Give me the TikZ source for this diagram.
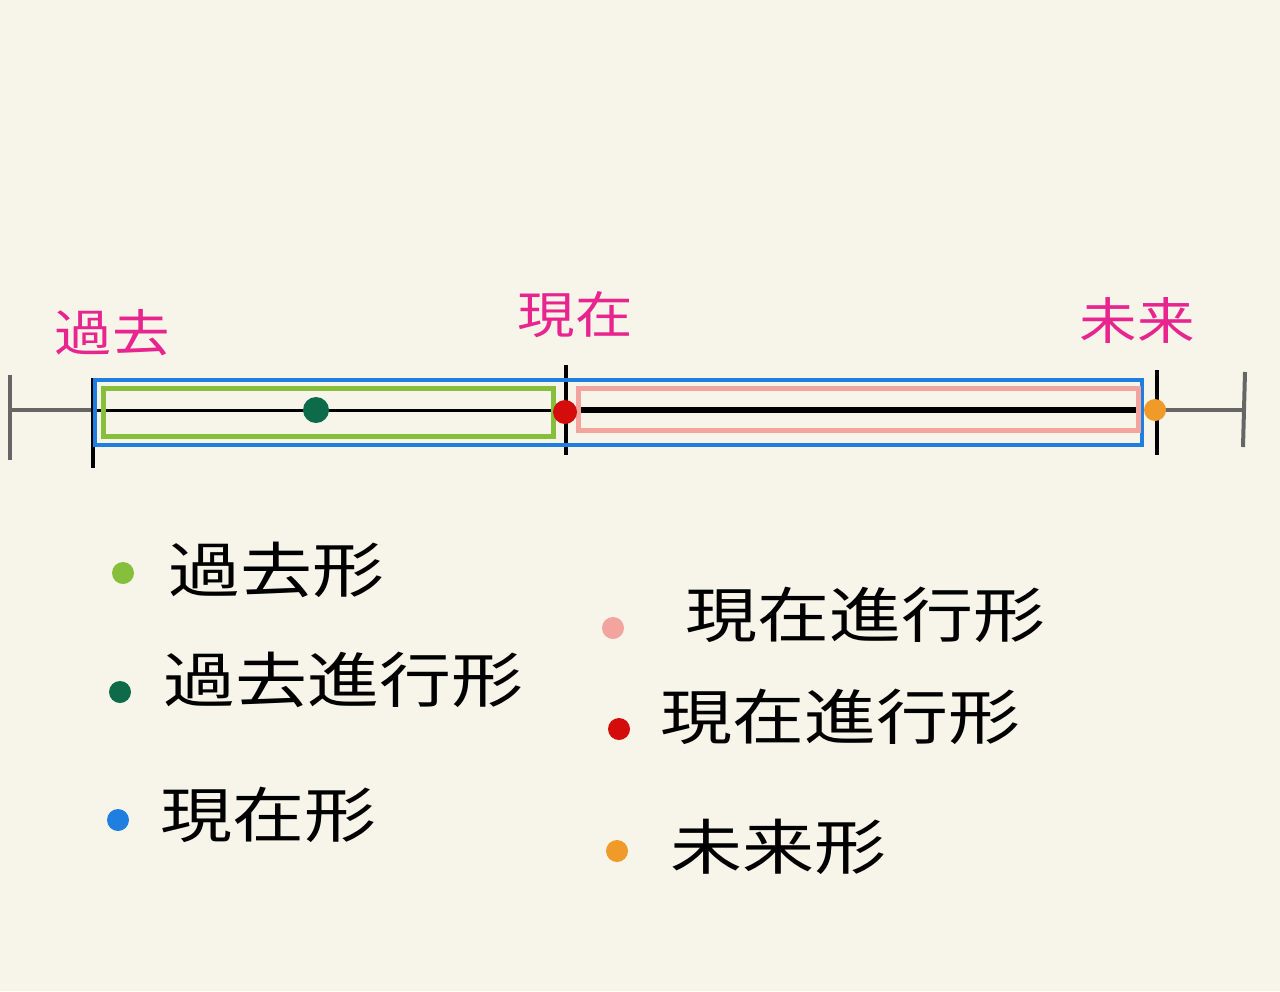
\documentclass[tikz,border=0pt]{standalone}
\usepackage{fontspec}
\newfontfamily\cjk{Noto Sans CJK JP}
\definecolor{bg}{HTML}{F7F5E9}
\definecolor{mag}{HTML}{E8258F}
\definecolor{gre}{HTML}{86BF3C}
\definecolor{dgr}{HTML}{0E6B4A}
\definecolor{blu}{HTML}{1E7FE0}
\definecolor{pnk}{HTML}{F4A49E}
\definecolor{red}{HTML}{D40C0C}
\definecolor{org}{HTML}{F09A2A}
\definecolor{gry}{HTML}{666666}
\begin{document}
\begin{tikzpicture}[x=1pt,y=-1pt,
  lab/.style={font=\cjk\fontsize{50}{52}\selectfont,text=mag,xscale=1.15},
  leg/.style={font=\cjk\fontsize{60}{62}\selectfont,anchor=west,inner sep=0,xscale=1.2},
  dot/.style={circle,inner sep=0,minimum size=#1}]
\fill[bg] (0,0) rectangle (1280,991);
\useasboundingbox (0,0) rectangle (1280,991);
% gray ends
\draw[gry,line width=4] (10,410) -- (95,410);
\draw[gry,line width=4] (10,375) -- (10,460);
\draw[gry,line width=4] (1155,410) -- (1245,410);
\draw[gry,line width=4] (1245,372) -- (1243,447);
% black line
\draw[line width=3] (95,410) -- (566,410);
\draw[line width=6] (566,410) -- (1140,410);
\draw[line width=4] (93,378) -- (93,468);
\draw[line width=4] (566,365) -- (566,455);
\draw[line width=4] (1157,370) -- (1157,455);
% rects
\draw[blu,line width=4] (95,380) rectangle (1142,445);
\draw[gre,line width=5] (103,388) rectangle (553,436);
\draw[pnk,line width=5] (578,388) rectangle (1138,430);
% dots
\node[dot=26,fill=dgr] (d1) at (316,410) {};
\node[dot=24,fill=red] (d2) at (565,412) {};
\node[dot=22,fill=org] (d3) at (1155,410) {};
% labels
\node[lab] (l1) at (112,333) {過去};
\node[lab] (l2) at (575,315) {現在};
\node[lab] (l3) at (1137,320) {未来};
% legend
\node[dot=22,fill=gre] (g1) at (123,573) {};
\node[dot=22,fill=dgr] (g2) at (120,692) {};
\node[dot=22,fill=blu] (g3) at (118,820) {};
\node[dot=22,fill=pnk] (g4) at (613,628) {};
\node[dot=22,fill=red] (g5) at (619,729) {};
\node[dot=22,fill=org] (g6) at (617,851) {};
\node[leg] (t1) at (168,570) {過去形};
\node[leg] (t2) at (163,680) {過去進行形};
\node[leg] (t3) at (160,815) {現在形};
\node[leg] (t4) at (685,615) {現在進行形};
\node[leg] (t5) at (660,717) {現在進行形};
\node[leg] (t6) at (670,847) {未来形};
\end{tikzpicture}
\end{document}
